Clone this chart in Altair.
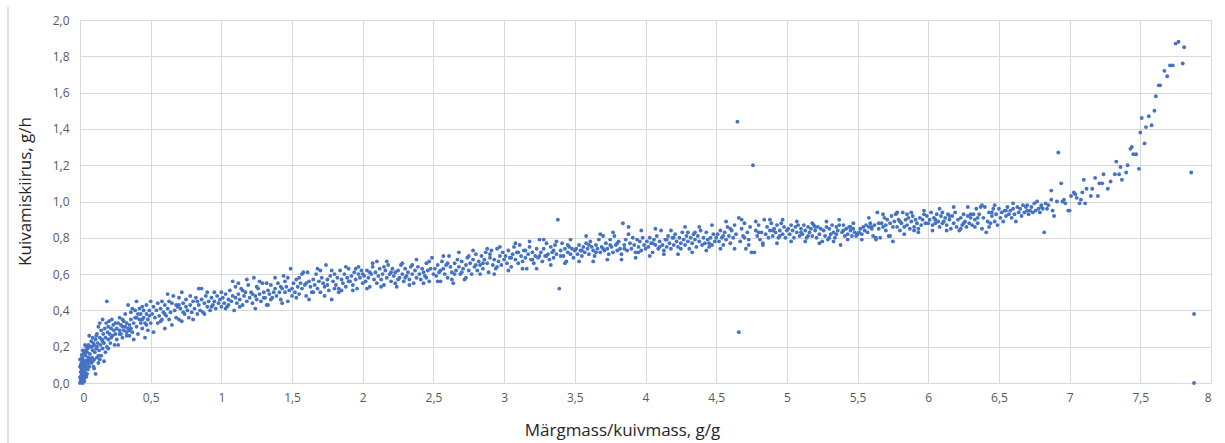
import altair as alt
import pandas as pd

# x = Märgmass/kuivmass (g/g), y = Kuivamiskiirus (g/h)
seg_a = [(0.0,0.0),(0.005,0.01),(0.01,0.02),(0.0,0.03),(0.01,0.04),(0.02,0.0),(0.015,0.05),(0.005,0.06),(0.02,0.07),(0.01,0.08),(0.025,0.02),(0.03,0.04),(0.0,0.09),(0.02,0.1),(0.01,0.11),(0.03,0.09),(0.035,0.06),(0.04,0.1),(0.025,0.12),(0.0,0.13),(0.015,0.14),(0.045,0.08),(0.05,0.12),(0.04,0.15),(0.03,0.17),(0.02,0.18),(0.055,0.1),(0.06,0.14),(0.05,0.17),(0.045,0.2),(0.06,0.21),(0.055,0.19),(0.035,0.21),(0.065,0.26),(0.02,0.02),(0.03,0.01),(0.035,0.03),(0.01,0.015),(0.015,0.025),(0.005,0.035),(0.025,0.055),(0.04,0.05),(0.045,0.035),(0.015,0.075),(0.035,0.085),(0.005,0.1),(0.03,0.115),(0.045,0.125),(0.055,0.075),(0.065,0.09),(0.06,0.115),(0.07,0.13),(0.04,0.18),(0.01,0.065),(0.02,0.045),(0.03,0.065),(0.02,0.13),(0.05,0.05),(0.012,0.155),(0.025,0.16)]
seg_b = [(0.07,0.16),(0.075,0.2),(0.08,0.11),(0.08,0.23),(0.085,0.14),(0.09,0.18),(0.09,0.25),(0.095,0.09),(0.1,0.13),(0.1,0.21),(0.105,0.17),(0.11,0.05),(0.11,0.24),(0.115,0.19),(0.12,0.14),(0.12,0.27),(0.125,0.22),(0.13,0.31),(0.13,0.11),(0.135,0.18),(0.14,0.25),(0.14,0.33),(0.145,0.21),(0.15,0.15),(0.15,0.29),(0.155,0.24),(0.16,0.19),(0.16,0.35),(0.165,0.27),(0.17,0.22),(0.17,0.12),(0.175,0.3),(0.18,0.25),(0.185,0.33),(0.19,0.45),(0.19,0.2),(0.195,0.28),(0.2,0.31),(0.2,0.24),(0.205,0.34),(0.21,0.27),(0.215,0.22),(0.22,0.3),(0.225,0.35),(0.23,0.26),(0.235,0.32),(0.24,0.29),(0.245,0.21),(0.25,0.33),(0.25,0.27),(0.09,0.12),(0.1,0.08),(0.13,0.15),(0.07,0.12),(0.12,0.2),(0.14,0.13),(0.16,0.23),(0.18,0.17),(0.2,0.19),(0.22,0.25),(0.095,0.22),(0.115,0.26),(0.085,0.2)]
seg_c = [(0.26,0.3),(0.26,0.24),(0.27,0.33),(0.27,0.21),(0.28,0.29),(0.28,0.36),(0.29,0.27),(0.29,0.32),(0.3,0.31),(0.3,0.25),(0.31,0.34),(0.31,0.29),(0.32,0.31),(0.32,0.38),(0.33,0.28),(0.33,0.33),(0.34,0.3),(0.34,0.43),(0.35,0.32),(0.35,0.26),(0.36,0.35),(0.36,0.3),(0.37,0.41),(0.37,0.28),(0.38,0.33),(0.38,0.24),(0.39,0.36),(0.39,0.4),(0.4,0.31),(0.4,0.45),(0.41,0.38),(0.41,0.27),(0.42,0.35),(0.42,0.41),(0.43,0.33),(0.43,0.38),(0.44,0.3),(0.44,0.42),(0.45,0.36),(0.45,0.4),(0.46,0.33),(0.46,0.25),(0.47,0.38),(0.47,0.43),(0.48,0.35),(0.48,0.29),(0.49,0.4),(0.49,0.37),(0.5,0.45),(0.5,0.33),(0.3,0.35),(0.33,0.26),(0.36,0.39),(0.4,0.36),(0.44,0.35),(0.47,0.32),(0.28,0.27),(0.35,0.29)]
seg_d = [(0.51,0.38),(0.52,0.42),(0.52,0.28),(0.53,0.36),(0.54,0.4),(0.55,0.44),(0.55,0.33),(0.56,0.37),(0.57,0.41),(0.58,0.35),(0.58,0.45),(0.59,0.39),(0.6,0.3),(0.6,0.43),(0.61,0.37),(0.62,0.41),(0.62,0.49),(0.63,0.35),(0.64,0.39),(0.65,0.44),(0.65,0.32),(0.66,0.48),(0.67,0.4),(0.68,0.36),(0.68,0.43),(0.69,0.42),(0.7,0.35),(0.7,0.47),(0.71,0.41),(0.72,0.5),(0.72,0.34),(0.73,0.44),(0.74,0.38),(0.75,0.42),(0.75,0.46),(0.76,0.4),(0.77,0.36),(0.78,0.48),(0.78,0.43),(0.79,0.39),(0.8,0.45),(0.8,0.35),(0.81,0.41),(0.82,0.47),(0.83,0.38),(0.84,0.52),(0.84,0.43),(0.85,0.4),(0.86,0.46),(0.86,0.52),(0.87,0.39),(0.88,0.44),(0.89,0.48),(0.9,0.42),(0.9,0.5),(0.91,0.45),(0.92,0.4),(0.93,0.47),(0.94,0.43),(0.95,0.5),(0.95,0.45),(0.96,0.41),(0.97,0.48),(0.98,0.44),(0.99,0.46),(1.0,0.42),(1.0,0.5),(0.57,0.34),(0.63,0.45),(0.73,0.39),(0.83,0.45),(0.93,0.42),(0.6,0.38),(0.7,0.43),(0.88,0.38)]
seg_e = [(1.01,0.47),(1.02,0.44),(1.03,0.49),(1.04,0.42),(1.05,0.46),(1.06,0.51),(1.07,0.45),(1.08,0.48),(1.09,0.4),(1.1,0.47),(1.1,0.53),(1.11,0.44),(1.12,0.49),(1.13,0.46),(1.14,0.52),(1.15,0.43),(1.16,0.48),(1.17,0.5),(1.18,0.45),(1.19,0.54),(1.2,0.47),(1.21,0.5),(1.22,0.44),(1.23,0.58),(1.24,0.48),(1.25,0.46),(1.26,0.52),(1.27,0.49),(1.28,0.45),(1.29,0.55),(1.3,0.5),(1.31,0.47),(1.32,0.43),(1.33,0.51),(1.34,0.49),(1.35,0.54),(1.36,0.47),(1.37,0.5),(1.38,0.52),(1.39,0.48),(1.4,0.55),(1.41,0.5),(1.42,0.46),(1.43,0.52),(1.44,0.59),(1.45,0.5),(1.46,0.53),(1.47,0.45),(1.48,0.51),(1.49,0.63),(1.5,0.48),(1.5,0.52),(1.05,0.43),(1.15,0.51),(1.25,0.53),(1.35,0.46),(1.45,0.56),(1.12,0.55),(1.22,0.49),(1.32,0.55),(1.42,0.53),(1.3,0.47)]
seg_f = [(1.51,0.55),(1.52,0.5),(1.53,0.57),(1.54,0.53),(1.55,0.49),(1.56,0.55),(1.57,0.52),(1.58,0.61),(1.59,0.54),(1.6,0.48),(1.61,0.61),(1.62,0.56),(1.63,0.53),(1.64,0.5),(1.65,0.57),(1.66,0.54),(1.67,0.6),(1.68,0.52),(1.69,0.56),(1.7,0.5),(1.71,0.58),(1.72,0.55),(1.73,0.53),(1.74,0.65),(1.75,0.57),(1.76,0.51),(1.77,0.59),(1.78,0.46),(1.79,0.56),(1.8,0.6),(1.81,0.54),(1.82,0.58),(1.83,0.52),(1.84,0.62),(1.85,0.57),(1.86,0.55),(1.87,0.6),(1.88,0.53),(1.89,0.58),(1.9,0.63),(1.91,0.56),(1.92,0.59),(1.93,0.54),(1.94,0.61),(1.95,0.57),(1.96,0.52),(1.97,0.6),(1.98,0.58),(1.99,0.62),(2.0,0.55),(1.55,0.58),(1.65,0.5),(1.75,0.54),(1.85,0.51),(1.95,0.63),(1.6,0.55),(1.7,0.62),(1.8,0.52),(1.9,0.56),(2.0,0.6)]
seg_g = [(2.01,0.59),(2.02,0.56),(2.03,0.62),(2.04,0.58),(2.05,0.53),(2.06,0.6),(2.07,0.64),(2.08,0.57),(2.09,0.61),(2.1,0.55),(2.1,0.67),(2.11,0.59),(2.12,0.63),(2.13,0.57),(2.14,0.6),(2.15,0.54),(2.16,0.62),(2.17,0.58),(2.18,0.65),(2.19,0.6),(2.2,0.56),(2.21,0.63),(2.22,0.59),(2.23,0.61),(2.24,0.53),(2.25,0.62),(2.26,0.58),(2.27,0.65),(2.28,0.6),(2.29,0.56),(2.3,0.63),(2.31,0.59),(2.32,0.61),(2.33,0.57),(2.34,0.64),(2.35,0.6),(2.36,0.55),(2.37,0.62),(2.38,0.58),(2.39,0.64),(2.4,0.6),(2.41,0.57),(2.42,0.63),(2.43,0.61),(2.44,0.59),(2.45,0.66),(2.46,0.62),(2.47,0.56),(2.48,0.63),(2.49,0.69),(2.5,0.6),(2.05,0.61),(2.15,0.64),(2.25,0.57),(2.35,0.65),(2.45,0.58),(2.2,0.61),(2.3,0.58)]
seg_h = [(2.51,0.63),(2.52,0.59),(2.53,0.65),(2.54,0.61),(2.55,0.56),(2.56,0.67),(2.57,0.63),(2.58,0.6),(2.59,0.65),(2.6,0.58),(2.61,0.7),(2.62,0.64),(2.63,0.61),(2.64,0.55),(2.65,0.66),(2.66,0.62),(2.67,0.68),(2.68,0.64),(2.69,0.6),(2.7,0.67),(2.71,0.63),(2.72,0.57),(2.73,0.65),(2.74,0.69),(2.75,0.62),(2.76,0.66),(2.77,0.6),(2.78,0.68),(2.79,0.64),(2.8,0.71),(2.81,0.62),(2.82,0.67),(2.83,0.65),(2.84,0.7),(2.85,0.63),(2.86,0.68),(2.87,0.72),(2.88,0.66),(2.89,0.61),(2.9,0.69),(2.91,0.73),(2.92,0.65),(2.93,0.68),(2.94,0.63),(2.95,0.74),(2.96,0.67),(2.97,0.7),(2.98,0.65),(2.99,0.72),(3.0,0.68),(2.55,0.62),(2.65,0.6),(2.75,0.7),(2.85,0.66),(2.95,0.64),(2.6,0.66),(2.7,0.61),(2.8,0.65),(2.9,0.71)]
seg_i = [(3.01,0.7),(3.02,0.66),(3.03,0.73),(3.04,0.69),(3.05,0.64),(3.06,0.71),(3.07,0.75),(3.08,0.68),(3.09,0.72),(3.1,0.66),(3.11,0.76),(3.12,0.7),(3.13,0.67),(3.14,0.73),(3.15,0.69),(3.16,0.63),(3.17,0.71),(3.18,0.75),(3.19,0.68),(3.2,0.72),(3.21,0.66),(3.22,0.7),(3.23,0.74),(3.24,0.69),(3.25,0.79),(3.26,0.72),(3.27,0.67),(3.28,0.74),(3.29,0.7),(3.3,0.77),(3.31,0.71),(3.32,0.68),(3.33,0.75),(3.34,0.72),(3.35,0.69),(3.36,0.76),(3.37,0.71),(3.38,0.9),(3.39,0.52),(3.4,0.73),(3.41,0.77),(3.42,0.7),(3.43,0.74),(3.44,0.67),(3.45,0.72),(3.46,0.75),(3.47,0.71),(3.48,0.74),(3.49,0.69),(3.5,0.73),(3.05,0.69),(3.15,0.73),(3.25,0.7),(3.35,0.73),(3.45,0.76),(3.1,0.72),(3.2,0.68),(3.3,0.7),(3.4,0.7)]
seg_j = [(3.51,0.74),(3.52,0.71),(3.53,0.76),(3.54,0.73),(3.55,0.7),(3.56,0.75),(3.57,0.72),(3.58,0.77),(3.59,0.74),(3.6,0.71),(3.61,0.78),(3.62,0.75),(3.63,0.73),(3.64,0.7),(3.65,0.76),(3.66,0.74),(3.67,0.79),(3.68,0.72),(3.69,0.75),(3.7,0.81),(3.71,0.73),(3.72,0.77),(3.73,0.74),(3.74,0.71),(3.75,0.79),(3.76,0.75),(3.77,0.72),(3.78,0.81),(3.79,0.76),(3.8,0.73),(3.81,0.78),(3.82,0.74),(3.83,0.71),(3.84,0.88),(3.85,0.76),(3.86,0.79),(3.87,0.73),(3.88,0.86),(3.89,0.77),(3.9,0.74),(3.91,0.8),(3.92,0.76),(3.93,0.72),(3.94,0.79),(3.95,0.75),(3.96,0.78),(3.97,0.73),(3.98,0.8),(3.99,0.76),(4.0,0.74),(3.55,0.73),(3.65,0.72),(3.75,0.76),(3.85,0.74),(3.95,0.72),(3.6,0.76),(3.7,0.74),(3.8,0.77)]
seg_k = [(4.01,0.78),(4.02,0.75),(4.03,0.8),(4.04,0.77),(4.05,0.72),(4.06,0.79),(4.07,0.76),(4.08,0.81),(4.09,0.74),(4.1,0.78),(4.11,0.84),(4.12,0.76),(4.13,0.73),(4.14,0.79),(4.15,0.75),(4.16,0.81),(4.17,0.77),(4.18,0.74),(4.19,0.8),(4.2,0.76),(4.21,0.82),(4.22,0.78),(4.23,0.75),(4.24,0.8),(4.25,0.77),(4.26,0.83),(4.27,0.79),(4.28,0.76),(4.29,0.81),(4.3,0.78),(4.31,0.74),(4.32,0.8),(4.33,0.77),(4.34,0.82),(4.35,0.79),(4.36,0.75),(4.37,0.81),(4.38,0.78),(4.39,0.84),(4.4,0.76),(4.41,0.8),(4.42,0.77),(4.43,0.83),(4.44,0.79),(4.45,0.75),(4.46,0.8),(4.47,0.76),(4.48,0.82),(4.49,0.78),(4.5,0.8),(4.05,0.77),(4.15,0.79),(4.25,0.74),(4.35,0.83),(4.45,0.77),(4.1,0.75),(4.2,0.8),(4.3,0.83)]
seg_l = [(4.51,0.82),(4.52,0.78),(4.53,0.84),(4.54,0.8),(4.55,0.76),(4.56,0.83),(4.57,0.79),(4.58,0.86),(4.59,0.81),(4.6,0.77),(4.61,0.84),(4.62,0.8),(4.63,0.87),(4.64,0.82),(4.65,1.44),(4.66,0.28),(4.66,0.91),(4.67,0.78),(4.68,0.85),(4.69,0.81),(4.7,0.88),(4.71,0.74),(4.72,0.83),(4.73,0.79),(4.74,0.86),(4.75,0.72),(4.76,1.2),(4.77,0.72),(4.78,0.84),(4.79,0.81),(4.8,0.87),(4.81,0.79),(4.82,0.83),(4.83,0.77),(4.84,0.9),(4.85,0.82),(4.86,0.86),(4.87,0.8),(4.88,0.84),(4.89,0.88),(4.9,0.81),(4.91,0.85),(4.92,0.83),(4.93,0.87),(4.94,0.8),(4.95,0.84),(4.96,0.88),(4.97,0.82),(4.98,0.86),(4.99,0.8),(5.0,0.84),(4.55,0.81),(4.6,0.85),(4.7,0.8),(4.8,0.83),(4.9,0.84),(4.95,0.81)]
seg_m = [(5.01,0.85),(5.02,0.82),(5.03,0.87),(5.04,0.84),(5.05,0.8),(5.06,0.86),(5.07,0.83),(5.08,0.87),(5.09,0.81),(5.1,0.85),(5.11,0.82),(5.12,0.87),(5.13,0.84),(5.14,0.8),(5.15,0.86),(5.16,0.83),(5.17,0.85),(5.18,0.81),(5.19,0.87),(5.2,0.84),(5.21,0.8),(5.22,0.86),(5.23,0.82),(5.24,0.85),(5.25,0.78),(5.26,0.84),(5.27,0.81),(5.28,0.86),(5.29,0.79),(5.3,0.85),(5.31,0.82),(5.32,0.87),(5.33,0.83),(5.34,0.8),(5.35,0.86),(5.36,0.84),(5.37,0.87),(5.38,0.76),(5.39,0.83),(5.4,0.87),(5.41,0.81),(5.42,0.85),(5.43,0.82),(5.44,0.86),(5.45,0.84),(5.46,0.81),(5.47,0.85),(5.48,0.83),(5.49,0.81),(5.5,0.82),(5.1,0.83),(5.2,0.86),(5.3,0.8),(5.4,0.84),(5.15,0.81),(5.35,0.82),(5.45,0.86)]
seg_n = [(5.51,0.83),(5.52,0.85),(5.53,0.82),(5.54,0.86),(5.55,0.84),(5.56,0.87),(5.57,0.83),(5.58,0.86),(5.59,0.88),(5.6,0.85),(5.61,0.81),(5.62,0.87),(5.63,0.79),(5.64,0.94),(5.65,0.85),(5.66,0.8),(5.67,0.88),(5.68,0.86),(5.69,0.91),(5.7,0.84),(5.71,0.9),(5.72,0.81),(5.73,0.88),(5.74,0.92),(5.75,0.78),(5.76,0.89),(5.77,0.93),(5.78,0.86),(5.79,0.9),(5.8,0.84),(5.81,0.88),(5.82,0.94),(5.83,0.86),(5.84,0.9),(5.85,0.87),(5.86,0.91),(5.87,0.85),(5.88,0.89),(5.89,0.92),(5.9,0.86),(5.91,0.9),(5.92,0.88),(5.93,0.85),(5.94,0.91),(5.95,0.87),(5.96,0.9),(5.97,0.93),(5.98,0.88),(5.99,0.92),(6.0,0.88),(5.6,0.86),(5.7,0.87),(5.8,0.89),(5.9,0.84),(5.65,0.88),(5.75,0.86),(5.85,0.93)]
seg_o = [(6.01,0.9),(6.02,0.94),(6.03,0.87),(6.04,0.91),(6.05,0.88),(6.06,0.93),(6.07,0.89),(6.08,0.86),(6.09,0.92),(6.1,0.94),(6.11,0.89),(6.12,0.91),(6.13,0.87),(6.14,0.93),(6.15,0.9),(6.16,0.85),(6.17,0.92),(6.18,0.88),(6.19,0.94),(6.2,0.86),(6.21,0.9),(6.22,0.84),(6.23,0.91),(6.24,0.87),(6.25,0.93),(6.26,0.89),(6.27,0.86),(6.28,0.92),(6.29,0.88),(6.3,0.91),(6.31,0.87),(6.32,0.93),(6.33,0.9),(6.34,0.96),(6.35,0.88),(6.36,0.93),(6.37,0.97),(6.38,0.85),(6.39,0.91),(6.4,0.97),(6.41,0.83),(6.42,0.89),(6.43,0.94),(6.44,0.88),(6.45,0.92),(6.46,0.96),(6.47,0.89),(6.48,0.93),(6.49,0.87),(6.5,0.96),(6.05,0.9),(6.15,0.92),(6.25,0.88),(6.35,0.91),(6.45,0.94),(6.1,0.88),(6.3,0.93)]
seg_p = [(6.51,0.91),(6.52,0.94),(6.53,0.89),(6.54,0.95),(6.55,0.92),(6.56,0.97),(6.57,0.93),(6.58,0.95),(6.59,0.91),(6.6,0.96),(6.61,0.93),(6.62,0.89),(6.63,0.97),(6.64,0.94),(6.65,0.96),(6.66,0.92),(6.67,0.98),(6.68,0.94),(6.69,0.97),(6.7,0.98),(6.71,0.93),(6.72,0.95),(6.73,0.97),(6.74,0.94),(6.75,0.99),(6.76,0.95),(6.77,1.0),(6.78,0.96),(6.79,0.94),(6.8,0.98),(6.81,0.96),(6.82,0.83),(6.83,0.99),(6.84,0.96),(6.85,0.98),(6.6,0.99),(6.7,0.95),(6.8,0.97),(6.55,0.95)]
seg_q = [(6.87,1.06),(6.87,1.01),(6.88,0.95),(6.89,0.92),(6.91,1.0),(6.92,1.27),(6.94,1.1),(6.95,1.0),(6.96,1.01),(6.97,0.99),(6.99,0.95),(7.0,0.95),(7.01,1.03),(7.03,1.05),(7.04,1.04),(7.05,1.02),(7.07,0.99),(7.08,1.01),(7.09,1.05),(7.1,1.12),(7.11,0.99),(7.12,1.07),(7.15,1.03),(7.16,1.07),(7.18,1.13),(7.2,1.03),(7.21,1.1),(7.23,1.1),(7.24,1.15),(7.27,1.07),(7.29,1.11),(7.32,1.15),(7.33,1.22),(7.35,1.15),(7.36,1.19),(7.37,1.12),(7.4,1.16),(7.41,1.2),(7.43,1.29),(7.44,1.3),(7.45,1.26),(7.47,1.26),(7.49,1.18),(7.5,1.38),(7.51,1.46),(7.53,1.32),(7.54,1.41),(7.56,1.47),(7.58,1.42),(7.6,1.5),(7.61,1.58),(7.63,1.64),(7.64,1.64),(7.67,1.72),(7.69,1.69),(7.71,1.75),(7.73,1.75),(7.75,1.87),(7.77,1.88),(7.8,1.76),(7.81,1.85),(7.86,1.16),(7.88,0.38),(7.88,0.0)]
# points along the upper and lower edges of the band
seg_edges = [(1.03,0.41),(1.08,0.56),(1.13,0.42),(1.18,0.57),(1.24,0.41),(1.27,0.56),(1.33,0.43),(1.38,0.58),(1.43,0.44),(1.47,0.58),
             (1.53,0.47),(1.57,0.6),(1.62,0.46),(1.68,0.63),(1.73,0.48),(1.78,0.62),(1.83,0.5),(1.88,0.64),(1.93,0.51),(1.97,0.64),
             (2.03,0.52),(2.07,0.66),(2.13,0.53),(2.17,0.67),(2.23,0.55),(2.28,0.66),(2.33,0.54),(2.38,0.68),(2.43,0.55),(2.47,0.67),
             (2.53,0.56),(2.57,0.7),(2.63,0.57),(2.68,0.72),(2.73,0.58),(2.78,0.73),(2.83,0.6),(2.88,0.74),(2.93,0.6),(2.97,0.75),
             (3.03,0.62),(3.08,0.77),(3.13,0.63),(3.18,0.78),(3.23,0.63),(3.28,0.79),(3.33,0.65),(3.37,0.78),(3.43,0.66),(3.47,0.79),
             (3.53,0.67),(3.58,0.81),(3.63,0.67),(3.68,0.82),(3.73,0.68),(3.77,0.83),(3.83,0.68),(3.88,0.82),(3.93,0.69),(3.97,0.84),
             (4.03,0.7),(4.07,0.85),(4.13,0.71),(4.18,0.84),(4.23,0.71),(4.28,0.86),(4.33,0.72),(4.38,0.86),(4.43,0.73),(4.47,0.87),
             (4.53,0.74),(4.57,0.89),(4.63,0.74),(4.68,0.9),(4.73,0.76),(4.78,0.89),(4.83,0.76),(4.88,0.9),(4.93,0.77),(4.97,0.9),
             (5.03,0.78),(5.07,0.89),(5.13,0.78),(5.18,0.88),(5.23,0.77),(5.28,0.89),(5.33,0.78),(5.37,0.9),(5.43,0.79),(5.47,0.88),
             (5.53,0.79),(5.58,0.91),(5.63,0.8),(5.68,0.93),(5.73,0.81),(5.78,0.94),(5.83,0.82),(5.88,0.94),(5.93,0.83),(5.97,0.95),
             (6.03,0.84),(6.08,0.96),(6.13,0.84),(6.18,0.97),(6.23,0.85),(6.28,0.97),(6.33,0.86),(6.38,0.98),(6.43,0.86),(6.47,0.98)]

segments = [seg_a, seg_b, seg_c, seg_d, seg_e, seg_f, seg_g, seg_h, seg_i,
            seg_j, seg_k, seg_l, seg_m, seg_n, seg_o, seg_p, seg_q, seg_edges]
rows = [p for seg in segments for p in seg]
df = pd.DataFrame(rows, columns=["x", "y"])

x_ticks = [0, 0.5, 1, 1.5, 2, 2.5, 3, 3.5, 4, 4.5, 5, 5.5, 6, 6.5, 7, 7.5, 8]
y_ticks = [0, 0.2, 0.4, 0.6, 0.8, 1.0, 1.2, 1.4, 1.6, 1.8, 2.0]

FONT = "Open Sans"
W, H = 1131, 363

points = alt.Chart(df).mark_circle(size=15, opacity=1, color="#4472C4").encode(
    x=alt.X("x:Q", scale=alt.Scale(domain=[0, 8], nice=False, zero=True),
            axis=alt.Axis(values=x_ticks, title="Märgmass/kuivmass, g/g",
                          labelExpr="datum.value % 1 == 0 ? format(datum.value, 'd') : replace(format(datum.value, '.1f'), '.', ',')",
                          grid=True, gridColor="#d9d9d9", domain=False, ticks=False,
                          labelFont=FONT, labelFontSize=12, labelColor="#595959", labelPadding=9,
                          titleFont=FONT, titleFontSize=17, titleFontWeight="normal", titleColor="#262626",
                          titleX=542, titleY=47, titleBaseline="middle", titleAnchor="start", titleAlign="center")),
    y=alt.Y("y:Q", scale=alt.Scale(domain=[0, 2], nice=False),
            axis=alt.Axis(values=y_ticks, title="Kuivamiskiirus, g/h",
                          labelExpr="replace(format(datum.value, '.1f'), '.', ',')",
                          grid=True, gridColor="#d9d9d9", domain=False, ticks=False,
                          labelFont=FONT, labelFontSize=12, labelColor="#595959", labelPadding=11,
                          titleFont=FONT, titleFontSize=17, titleFontWeight="normal", titleColor="#262626",
                          titleX=-55, titleY=171, titleBaseline="middle", titleAngle=-90, titleAlign="center")),
)

border = alt.Chart(pd.DataFrame({"a": [0]})).mark_rule(color="#bfbfbf", strokeWidth=1).encode(
    x=alt.value(-72), y=alt.value(-13), y2=alt.value(H + 60)
)

chart = alt.layer(border, points).properties(
    width=W, height=H,
    padding={"left": 80, "top": 20, "right": 14, "bottom": 60},
    autosize=alt.AutoSizeParams(type="none"),
).configure_view(stroke=None).configure(background="white")

chart.save("out.html", embed_options={"renderer": "svg", "actions": False})
